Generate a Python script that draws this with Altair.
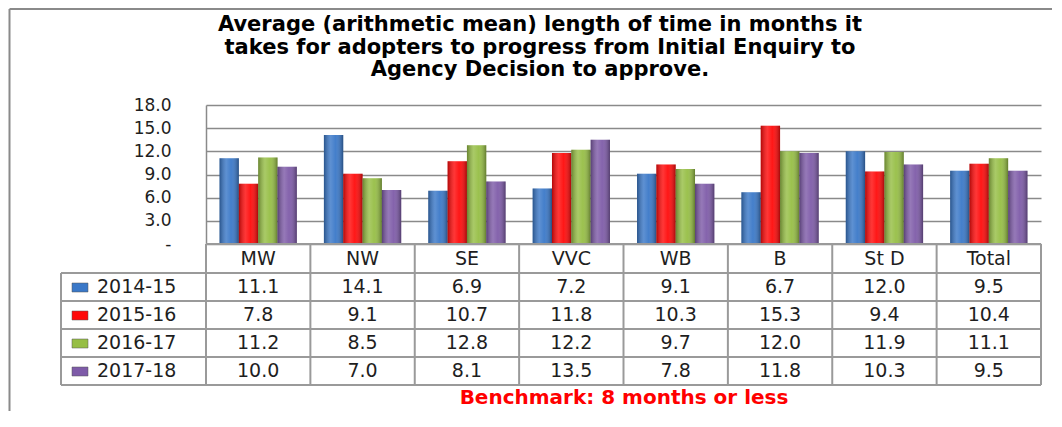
import altair as alt
import pandas as pd

categories = ["MW", "NW", "SE", "VVC", "WB", "B", "St D", "Total"]
series = ["2014-15", "2015-16", "2016-17", "2017-18"]
v_2014_15 = [11.1, 14.1, 6.9, 7.2, 9.1, 6.7, 12.0, 9.5]
v_2015_16 = [7.8, 9.1, 10.7, 11.8, 10.3, 15.3, 9.4, 10.4]
v_2016_17 = [11.2, 8.5, 12.8, 12.2, 9.7, 12.0, 11.9, 11.1]
v_2017_18 = [10.0, 7.0, 8.1, 13.5, 7.8, 11.8, 10.3, 9.5]
colors = ["#3A78C8", "#FF0A0A", "#96BE45", "#7E5BA8"]
title_lines = [
    "Average (arithmetic mean) length of time in months it",
    "takes for adopters to progress from Initial  Enquiry to",
    "Agency Decision to approve.",
]
benchmark = "Benchmark: 8 months  or less"
y_ticks = [0, 3, 6, 9, 12, 15, 18]

values = [v_2014_15, v_2015_16, v_2016_17, v_2017_18]
rows = []
for s, vals in zip(series, values):
    for c, v in zip(categories, vals):
        rows.append({"cat": c, "series": s, "value": v})
df = pd.DataFrame(rows)
cat_df = pd.DataFrame({"cat": categories})
one = pd.DataFrame({"a": [0]})

W, H = 835, 139
FONT = "DejaVu Sans"
TXT = "#1e1e1e"
LINE = "#9a9a9a"

x_enc = alt.X("cat:N", sort=categories,
              scale=alt.Scale(paddingInner=0, paddingOuter=0), axis=None)
xoff = alt.XOffset("series:N", sort=series,
                   scale=alt.Scale(paddingInner=0, paddingOuter=0.7))
y_enc = alt.Y(
    "value:Q",
    scale=alt.Scale(domain=[0, 18], nice=False),
    axis=alt.Axis(
        values=y_ticks, tickCount=len(y_ticks), title=None, ticks=False, tickSize=0,
        labelOverlap=False, labelBound=False,
        labelPadding=35, labelFont=FONT, labelFontSize=17, labelColor=TXT,
        labelExpr="datum.value == 0 ? '-\u00a0\u00a0\u00a0' : format(datum.value, '.1f')",
        domainColor="#8a8a8a", domainWidth=1.5,
        grid=True, gridColor="#8a8a8a", gridWidth=1.5,
    ),
)

bars = alt.Chart(df).mark_bar().encode(
    x=x_enc, xOffset=xoff, y=y_enc,
    color=alt.Color("series:N", sort=series,
                    scale=alt.Scale(domain=series, range=colors), legend=None),
)
shade = alt.Chart(df).mark_bar(
    fill=alt.Gradient(
        gradient="linear", x1=0, x2=1, y1=0, y2=0,
        stops=[
            alt.GradientStop(offset=0, color="rgba(0,0,0,0.30)"),
            alt.GradientStop(offset=0.35, color="rgba(255,255,255,0.18)"),
            alt.GradientStop(offset=0.6, color="rgba(255,255,255,0.05)"),
            alt.GradientStop(offset=1, color="rgba(0,0,0,0.35)"),
        ],
    )
).encode(x=x_enc, xOffset=xoff, y=y_enc)

layers = [bars, shade]

# table grid
row_top = [139, 168, 196, 224, 252, 280]
layers.append(alt.Chart(one).mark_rule(color=LINE, strokeWidth=2).encode(
    x=alt.value(0), x2=alt.value(W), y=alt.value(row_top[0])))
for yy in row_top[1:]:
    layers.append(alt.Chart(one).mark_rule(color=LINE, strokeWidth=2).encode(
        x=alt.value(-145), x2=alt.value(W), y=alt.value(yy)))
layers.append(alt.Chart(cat_df).mark_rule(color=LINE, strokeWidth=2).encode(
    x=alt.X("cat:N", sort=categories, bandPosition=0),
    y=alt.value(row_top[0]), y2=alt.value(row_top[-1])))
layers.append(alt.Chart(one).mark_rule(color=LINE, strokeWidth=2).encode(
    x=alt.value(W), y=alt.value(row_top[0]), y2=alt.value(row_top[-1])))
layers.append(alt.Chart(one).mark_rule(color=LINE, strokeWidth=2).encode(
    x=alt.value(-145), y=alt.value(row_top[1]), y2=alt.value(row_top[-1])))

# header labels
layers.append(alt.Chart(cat_df).mark_text(
    font=FONT, fontSize=19, color=TXT, baseline="middle").encode(
    x=alt.X("cat:N", sort=categories, bandPosition=0.5),
    y=alt.value(154), text="cat:N"))

# value rows + legend keys
for i, (s, col) in enumerate(zip(series, colors)):
    yc = (row_top[i + 1] + row_top[i + 2]) / 2
    layers.append(alt.Chart(df).transform_filter(
        alt.datum.series == s).mark_text(
        font=FONT, fontSize=19, color=TXT, baseline="middle").encode(
        x=alt.X("cat:N", sort=categories, bandPosition=0.5),
        y=alt.value(yc), text=alt.Text("value:Q", format=".1f")))
    layers.append(alt.Chart(one).mark_rect(
        color=col, stroke="#555555", strokeWidth=0.5).encode(
        x=alt.value(-134), x2=alt.value(-118),
        y=alt.value(yc - 4), y2=alt.value(yc + 5)))
    layers.append(alt.Chart(pd.DataFrame({"s": [s]})).mark_text(
        font=FONT, fontSize=19, color=TXT, align="left", baseline="middle").encode(
        x=alt.value(-109), y=alt.value(yc), text="s:N"))

# title
for k, line in enumerate(title_lines):
    layers.append(alt.Chart(pd.DataFrame({"t": [line]})).mark_text(
        font=FONT, fontSize=21, fontWeight="bold", color="#000000",
        baseline="middle").encode(
        x=alt.value(334), y=alt.value([-80, -57, -35][k]), text="t:N"))

# benchmark
layers.append(alt.Chart(pd.DataFrame({"t": [benchmark]})).mark_text(
    font=FONT, fontSize=20, fontWeight="bold", color="#FF0000",
    baseline="middle").encode(
    x=alt.value(418), y=alt.value(293), text="t:N"))

# outer frame
layers.append(alt.Chart(one).mark_rule(color="#8a8a8a", strokeWidth=2).encode(
    x=alt.value(-196.5), y=alt.value(-96), y2=alt.value(306)))
layers.append(alt.Chart(one).mark_rule(color="#8a8a8a", strokeWidth=2).encode(
    x=alt.value(-196.5), x2=alt.value(846), y=alt.value(-96)))

chart = alt.layer(*layers).properties(
    width=W, height=H, padding=0, background="white"
).configure_view(stroke=None)

chart.save("out.html", embed_options={"renderer": "svg", "actions": False})
